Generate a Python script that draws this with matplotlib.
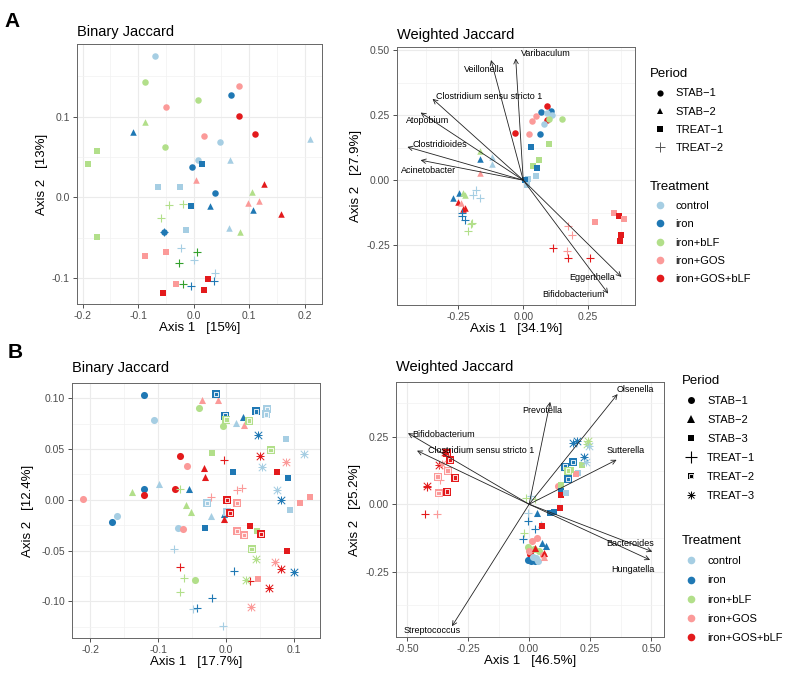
import matplotlib.pyplot as plt
from matplotlib.lines import Line2D
from matplotlib.ticker import FormatStrFormatter

plt.rcParams['font.family'] = ['Liberation Sans', 'DejaVu Sans']

# colour of each treatment (D = dark green points that are not in the legend)
treat_names = ['control', 'iron', 'iron+bLF', 'iron+GOS', 'iron+GOS+bLF']
treat_codes = ['C', 'I', 'B', 'G', 'R']
treat_colors = {'C': '#A6CEE3', 'I': '#1F78B4', 'B': '#B2DF8A',
                'G': '#FB9A99', 'R': '#E31A1C', 'D': '#33A02C'}

# ---------------- A: Binary Jaccard ----------------
a_bin_x = [-0.069, -0.087, 0.082, 0.067, 0.007, -0.050, 0.081, 0.111, 0.019, 0.047, -0.052, 0.008, -0.003, 0.039, -0.054,
           -0.110, -0.088, 0.210, 0.065, 0.004, 0.126, 0.105, 0.097, 0.117, 0.030, 0.106, 0.158, 0.064, 0.084,
           -0.174, -0.191, 0.015, -0.064, -0.025, -0.004, -0.014, -0.174, -0.087, -0.050, -0.032, -0.056, 0.026, 0.019,
           -0.044, -0.020, -0.059, -0.053, -0.023, 0.006, -0.027, 0.000, 0.039, 0.036, -0.019, -0.005]
a_bin_y = [0.175, 0.143, 0.138, 0.127, 0.121, 0.112, 0.101, 0.079, 0.076, 0.069, 0.063, 0.046, 0.038, 0.005, -0.043,
           0.081, 0.093, 0.072, 0.046, 0.022, 0.017, 0.007, -0.007, -0.004, -0.010, -0.016, -0.021, -0.038, -0.043,
           0.057, 0.041, 0.041, 0.013, 0.013, -0.011, -0.040, -0.049, -0.073, -0.067, -0.107, -0.118, -0.101, -0.115,
           -0.009, -0.008, -0.025, -0.043, -0.063, -0.067, -0.081, -0.077, -0.093, -0.104, -0.107, -0.110]
a_bin_period = ['STAB-1'] * 15 + ['STAB-2'] * 14 + ['TREAT-1'] * 14 + ['TREAT-2'] * 12
a_bin_treat = ['C', 'B', 'G', 'I', 'B', 'G', 'R', 'R', 'G', 'C', 'B', 'C', 'I', 'I', 'I',
               'I', 'B', 'C', 'C', 'G', 'R', 'B', 'G', 'G', 'I', 'I', 'R', 'C', 'B',
               'B', 'B', 'I', 'C', 'C', 'I', 'C', 'B', 'G', 'G', 'G', 'R', 'R', 'R',
               'B', 'B', 'B', 'I', 'C', 'D', 'D', 'C', 'C', 'I', 'D', 'I']

# ---------------- A: Weighted Jaccard ----------------
a_w_x = [0.092, 0.067, 0.107, 0.092, 0.112, 0.051, 0.035, 0.092, 0.100, 0.151, 0.080, -0.031, 0.022, 0.064,
         -0.167, -0.167, -0.122, -0.119, -0.167, -0.269, -0.247, -0.231, -0.226, -0.250, -0.240, -0.233, -0.224,
         0.031, 0.099, 0.060, 0.037, 0.053, 0.050, 0.018, 0.005, 0.015, 0.275, 0.350, 0.369, 0.388, 0.375, 0.371,
         -0.182, -0.195, -0.165, -0.237, -0.237, -0.224, -0.196, -0.200, -0.213, 0.171, 0.186, 0.115, 0.169, 0.171, 0.258]
a_w_y = [0.285, 0.264, 0.265, 0.258, 0.250, 0.246, 0.227, 0.233, 0.237, 0.235, 0.215, 0.181, 0.176, 0.176,
         0.112, 0.083, 0.090, 0.064, 0.026, -0.068, -0.051, -0.049, -0.055, -0.083, -0.087, -0.109, -0.105,
         0.128, 0.141, 0.077, 0.055, 0.047, 0.017, 0.005, 0.000, -0.017, -0.162, -0.126, -0.137, -0.148, -0.209, -0.235,
         -0.036, -0.058, -0.067, -0.126, -0.138, -0.154, -0.163, -0.170, -0.195, -0.176, -0.212, -0.259, -0.272, -0.301, -0.301]
a_w_period = ['STAB-1'] * 14 + ['STAB-2'] * 13 + ['TREAT-1'] * 15 + ['TREAT-2'] * 15
a_w_treat = ['R', 'I', 'I', 'C', 'C', 'G', 'G', 'R', 'B', 'B', 'C', 'R', 'G', 'I',
             'B', 'I', 'C', 'C', 'G', 'I', 'I', 'B', 'B', 'R', 'G', 'R', 'R',
             'I', 'B', 'B', 'B', 'I', 'C', 'C', 'I', 'C', 'G', 'G', 'R', 'G', 'R', 'R',
             'C', 'C', 'C', 'I', 'I', 'I', 'B', 'B', 'B', 'G', 'G', 'R', 'G', 'R', 'R']
a_taxa = ['Varibaculum', 'Veillonella', 'Clostridium sensu stricto 1', 'Atopobium',
          'Clostridioides', 'Acinetobacter', 'Eggerthella', 'Bifidobacterium']
a_arrow_x = [-0.029, -0.124, -0.349, -0.395, -0.446, -0.395, 0.378, 0.327]
a_arrow_y = [0.468, 0.462, 0.313, 0.260, 0.128, 0.077, -0.372, -0.436]
a_label_x = [0.087, -0.150, -0.131, -0.368, -0.320, -0.364, 0.264, 0.192]
a_label_y = [0.487, 0.427, 0.320, 0.228, 0.137, 0.038, -0.374, -0.440]

# ---------------- B: Binary Jaccard ----------------
b_bin_x = [-0.121, -0.106, -0.040, -0.004, -0.068, -0.057, -0.121, -0.121, -0.075, -0.211, -0.160, -0.168, -0.070, -0.063, -0.045,
           -0.035, -0.012, 0.025, 0.015, 0.027, -0.032, -0.031, -0.099, -0.138, -0.055, -0.059, -0.052, -0.022, -0.003, -0.003,
           -0.020, 0.010, 0.075, 0.089, 0.092, 0.124, 0.110, 0.095, -0.030, 0.036, 0.046, 0.091, 0.047,
           -0.002, 0.017, 0.024, -0.022, -0.067, -0.076, -0.067, -0.062, -0.067, 0.012, 0.036, -0.020, -0.043, -0.048, -0.004,
           -0.015, -0.001, 0.001, 0.034, 0.045, 0.061, 0.059, 0.066, -0.028, 0.002, 0.002, 0.006, 0.016, 0.016, 0.027, 0.052, 0.038,
           0.047, 0.051, 0.089, 0.116, 0.054, 0.075, 0.082, 0.045, 0.073, 0.081, 0.101, 0.030, 0.064, 0.037]
b_bin_y = [0.103, 0.079, 0.090, 0.073, 0.043, 0.033, 0.011, 0.005, 0.011, 0.001, -0.016, -0.022, -0.028, -0.029, -0.079,
           0.098, 0.098, 0.082, 0.076, 0.074, 0.031, 0.022, 0.016, 0.008, 0.011, -0.005, -0.012, -0.016, -0.014, -0.019,
           0.046, 0.027, 0.027, 0.060, 0.021, 0.003, -0.003, -0.010, -0.028, -0.026, -0.031, -0.050, -0.078,
           0.039, 0.010, 0.012, 0.003, 0.011, -0.048, -0.066, -0.077, -0.091, -0.070, -0.080, -0.097, -0.106, -0.107, -0.124,
           0.104, 0.083, 0.079, 0.078, 0.087, 0.089, 0.084, 0.049, -0.003, 0.000, -0.012, -0.013, -0.003, -0.031, -0.035, -0.034, -0.048,
           0.064, 0.043, 0.037, 0.045, 0.032, 0.010, 0.000, -0.058, -0.061, -0.068, -0.071, -0.079, -0.087, -0.105]
b_bin_period = (['STAB-1'] * 15 + ['STAB-2'] * 15 + ['STAB-3'] * 13 + ['TREAT-1'] * 15
                + ['TREAT-2'] * 17 + ['TREAT-3'] * 14)
b_bin_treat = ['I', 'C', 'B', 'B', 'R', 'G', 'I', 'R', 'R', 'G', 'C', 'I', 'C', 'G', 'B',
               'G', 'G', 'I', 'C', 'G', 'R', 'R', 'C', 'B', 'I', 'B', 'B', 'C', 'I', 'R',
               'B', 'I', 'R', 'C', 'I', 'G', 'G', 'C', 'I', 'R', 'B', 'R', 'G',
               'R', 'G', 'G', 'G', 'B', 'C', 'R', 'B', 'B', 'I', 'R', 'I', 'I', 'C', 'C',
               'I', 'I', 'B', 'B', 'I', 'C', 'C', 'B', 'C', 'R', 'C', 'R', 'G', 'G', 'G', 'R', 'B',
               'I', 'R', 'G', 'C', 'C', 'C', 'I', 'B', 'G', 'R', 'I', 'B', 'R', 'G']

# ---------------- B: Weighted Jaccard ----------------
b_w_x = [0.034, 0.012, -0.005, 0.020, 0.040, 0.004, 0.055, -0.005, 0.008, 0.022, 0.038, 0.030, 0.015, 0.000, 0.120,
         0.031, 0.048, 0.052, 0.068, 0.025, 0.061, 0.060,
         0.086, 0.102, 0.125, 0.053, 0.129, 0.129, 0.150, 0.131, 0.215, 0.199, 0.191, 0.172, 0.155,
         -0.012, 0.025, 0.008, -0.003, -0.003, 0.025, -0.023, -0.025, -0.418, -0.428, -0.377, -0.364,
         0.147, 0.178, 0.158, 0.160, -0.323, -0.334, -0.375, -0.302, -0.371, -0.337, -0.335,
         0.195, 0.181, 0.236, 0.243, 0.226, 0.233, -0.343, -0.368, -0.357, -0.418, 0.240]
b_w_y = [-0.127, -0.135, -0.158, -0.165, -0.175, -0.185, -0.190, -0.208, -0.210, -0.212, -0.212, -0.200, -0.195, -0.175, 0.068,
         -0.031, -0.073, -0.145, -0.154, -0.161, -0.182, -0.195,
         -0.034, -0.027, -0.015, -0.081, 0.057, 0.035, 0.041, 0.072, 0.146, 0.115, 0.113, 0.128, 0.113,
         0.025, 0.020, 0.031, -0.034, -0.061, -0.092, -0.108, -0.130, 0.063, -0.037, -0.036, 0.091,
         0.140, 0.156, 0.094, 0.125, 0.165, 0.125, 0.103, 0.099, 0.043, 0.047, 0.190,
         0.236, 0.226, 0.223, 0.215, 0.174, 0.156, 0.194, 0.146, 0.149, 0.068, 0.235]
b_w_period = (['STAB-1'] * 15 + ['STAB-2'] * 7 + ['STAB-3'] * 13 + ['TREAT-1'] * 12
              + ['TREAT-2'] * 11 + ['TREAT-3'] * 11)
b_w_treat = ['G', 'G', 'B', 'B', 'B', 'R', 'G', 'I', 'I', 'I', 'C', 'C', 'C', 'G', 'G',
             'I', 'C', 'I', 'I', 'R', 'R', 'G',
             'I', 'I', 'R', 'R', 'I', 'R', 'C', 'B', 'B', 'C', 'G', 'B', 'B',
             'B', 'B', 'C', 'C', 'I', 'I', 'B', 'I', 'R', 'R', 'G', 'G',
             'I', 'I', 'I', 'B', 'R', 'G', 'G', 'R', 'G', 'R', 'R',
             'I', 'I', 'B', 'C', 'I', 'C', 'R', 'R', 'G', 'R', 'B']
b_taxa = ['Olsenella', 'Prevotella', 'Bifidobacterium', 'Clostridium sensu stricto 1',
          'Sutterella', 'Bacteroides', 'Hungatella', 'Streptococcus']
b_arrow_x = [0.362, 0.086, -0.496, -0.459, 0.358, 0.504, 0.495, -0.316]
b_arrow_y = [0.409, 0.380, 0.264, 0.199, 0.165, -0.176, -0.207, -0.453]
b_label_x = [0.436, 0.052, -0.350, -0.196, 0.395, 0.413, 0.424, -0.398]
b_label_y = [0.426, 0.347, 0.260, 0.199, 0.201, -0.145, -0.242, -0.470]

# shape used for each period, per panel row
shapes_a = {'STAB-1': 'circle', 'STAB-2': 'triangle', 'TREAT-1': 'square', 'TREAT-2': 'plus'}
shapes_b = {'STAB-1': 'circle', 'STAB-2': 'triangle', 'STAB-3': 'square',
            'TREAT-1': 'plus', 'TREAT-2': 'boxcross', 'TREAT-3': 'star'}

fig = plt.figure(figsize=(7.87, 6.75), dpi=100)


def style_axes(ax, xlim, ylim, xticks, yticks, xfmt, yfmt, xminor, yminor):
    ax.set_xlim(xlim)
    ax.set_ylim(ylim)
    ax.set_xticks(xticks)
    ax.set_yticks(yticks)
    ax.set_xticks(xminor, minor=True)
    ax.set_yticks(yminor, minor=True)
    ax.xaxis.set_major_formatter(FormatStrFormatter(xfmt))
    ax.yaxis.set_major_formatter(FormatStrFormatter(yfmt))
    ax.grid(True, which='major', color='#EBEBEB', lw=0.8)
    ax.grid(True, which='minor', color='#F2F2F2', lw=0.5)
    ax.set_axisbelow(True)
    ax.tick_params(which='major', length=3, width=0.6, color='#333333',
                   labelsize=7.5, labelcolor='#4D4D4D', pad=2)
    ax.tick_params(which='minor', length=0)
    for s in ax.spines.values():
        s.set_color('#666666')
        s.set_linewidth(0.7)


def draw_points(ax, xs, ys, periods, treats, shapes, size):
    for x, y, p, t in zip(xs, ys, periods, treats):
        c = treat_colors[t]
        shape = shapes[p]
        if shape == 'circle':
            ax.scatter(x, y, s=size, marker='o', color=c, lw=0, zorder=3)
        elif shape == 'triangle':
            ax.scatter(x, y, s=size, marker='^', color=c, lw=0, zorder=3)
        elif shape == 'square':
            ax.scatter(x, y, s=size * 0.9, marker='s', color=c, lw=0, zorder=3)
        elif shape == 'plus':
            ax.scatter(x, y, s=size * 1.6, marker='+', color=c, lw=0.8, zorder=3)
        elif shape == 'boxcross':
            ax.scatter(x, y, s=size * 1.0, marker='s', color=c, lw=0, zorder=3)
            ax.scatter(x, y, s=size * 0.35, marker='s', facecolor='none',
                       edgecolor='white', lw=0.6, zorder=3)
            ax.scatter(x, y, s=size * 0.08, marker='o', color=c, lw=0, zorder=3)
        else:
            ax.scatter(x, y, s=size * 1.6, marker='+', color=c, lw=0.7, zorder=3)
            ax.scatter(x, y, s=size * 1.1, marker='x', color=c, lw=0.7, zorder=3)
            ax.scatter(x, y, s=size * 0.3, marker='o', color=c, lw=0, zorder=3)


def draw_arrows(ax, taxa, tx, ty, lx, ly):
    for name, x, y, u, v in zip(taxa, tx, ty, lx, ly):
        ax.annotate('', xy=(x, y), xytext=(0, 0),
                    arrowprops=dict(arrowstyle='->', lw=0.6, color='#222222',
                                    shrinkA=0, shrinkB=0, mutation_scale=8), zorder=4)
        ax.text(u, v, name, fontsize=6.5, ha='center', va='center', zorder=5)


def add_legends(periods, handles, x, y_period, y_treat, spacing):
    fig.legend(handles, [p.replace('-', '\u2212') for p in periods], title='Period', loc='upper left',
               bbox_to_anchor=(x, y_period), frameon=False, fontsize=8, title_fontsize=9.5,
               alignment='left', borderpad=0, borderaxespad=0, handlelength=1.7,
               handletextpad=0.6, labelspacing=spacing)
    th = [Line2D([], [], ls='', marker='o', ms=5.5, color=treat_colors[c], mew=0) for c in treat_codes]
    fig.legend(th, treat_names, title='Treatment', loc='upper left',
               bbox_to_anchor=(x, y_treat), frameon=False, fontsize=8, title_fontsize=9.5,
               alignment='left', borderpad=0, borderaxespad=0, handlelength=1.7,
               handletextpad=0.6, labelspacing=spacing)


def mk(marker, ms, mew=0, color='black'):
    return Line2D([], [], ls='', marker=marker, ms=ms, color=color, mew=mew)


# Panel A left
ax1 = fig.add_axes([0.0978, 0.5496, 0.3113, 0.3852])
style_axes(ax1, (-0.210, 0.231), (-0.132, 0.190), [-0.2, -0.1, 0.0, 0.1, 0.2], [-0.1, 0.0, 0.1],
           '%.1f', '%.1f', [-0.15, -0.05, 0.05, 0.15], [-0.05, 0.05, 0.15])
draw_points(ax1, a_bin_x, a_bin_y, a_bin_period, a_bin_treat, shapes_a, 22)
ax1.set_title('Binary Jaccard', loc='left', fontsize=10.5, pad=6)
ax1.set_xlabel('Axis 1   [15%]', fontsize=9.5, labelpad=1)
ax1.set_ylabel('Axis 2   [13%]', fontsize=9.5, labelpad=3)

# Panel A right
ax2 = fig.add_axes([0.5044, 0.5481, 0.3024, 0.3822])
style_axes(ax2, (-0.486, 0.430), (-0.480, 0.512), [-0.25, 0.0, 0.25], [-0.25, 0.0, 0.25, 0.5],
           '%.2f', '%.2f', [-0.375, -0.125, 0.125, 0.375], [-0.375, -0.125, 0.125, 0.375])
draw_points(ax2, a_w_x, a_w_y, a_w_period, a_w_treat, shapes_a, 22)
draw_arrows(ax2, a_taxa, a_arrow_x, a_arrow_y, a_label_x, a_label_y)
ax2.set_title('Weighted Jaccard', loc='left', fontsize=10.5, pad=6)
ax2.set_xlabel('Axis 1   [34.1%]', fontsize=9.5, labelpad=1)
ax2.set_ylabel('Axis 2   [27.9%]', fontsize=9.5, labelpad=3)

# Panel B left
ax3 = fig.add_axes([0.0915, 0.0548, 0.3151, 0.3778])
style_axes(ax3, (-0.227, 0.139), (-0.136, 0.115), [-0.2, -0.1, 0.0, 0.1],
           [-0.10, -0.05, 0.0, 0.05, 0.10], '%.1f', '%.2f',
           [-0.15, -0.05, 0.05], [-0.125, -0.075, -0.025, 0.025, 0.075])
draw_points(ax3, b_bin_x, b_bin_y, b_bin_period, b_bin_treat, shapes_b, 26)
ax3.set_title('Binary Jaccard', loc='left', fontsize=10.5, pad=8)
ax3.set_xlabel('Axis 1   [17.7%]', fontsize=9.5, labelpad=1)
ax3.set_ylabel('Axis 2   [12.4%]', fontsize=9.5, labelpad=5)

# Panel B right
ax4 = fig.add_axes([0.5032, 0.0563, 0.3405, 0.3778])
style_axes(ax4, (-0.545, 0.552), (-0.493, 0.454), [-0.5, -0.25, 0.0, 0.25, 0.5], [-0.25, 0.0, 0.25],
           '%.2f', '%.2f', [-0.375, -0.125, 0.125, 0.375], [-0.375, -0.125, 0.125, 0.375])
draw_points(ax4, b_w_x, b_w_y, b_w_period, b_w_treat, shapes_b, 26)
draw_arrows(ax4, b_taxa, b_arrow_x, b_arrow_y, b_label_x, b_label_y)
ax4.set_title('Weighted Jaccard', loc='left', fontsize=10.5, pad=8)
ax4.set_xlabel('Axis 1   [46.5%]', fontsize=9.5, labelpad=1)
ax4.set_ylabel('Axis 2   [25.2%]', fontsize=9.5, labelpad=3)

# legends
add_legends(['STAB-1', 'STAB-2', 'TREAT-1', 'TREAT-2'],
            [mk('o', 4.5), mk('^', 5), mk('s', 4.5), mk('+', 6.5, 0.7, '#555555')],
            0.826, 0.899, 0.732, 0.74)
sq_x = (mk('s', 5), mk('s', 3, 0.6, 'white'))
sq_x[1].set_markerfacecolor('none')
star = (mk('+', 6, 0.7), mk('x', 5, 0.7))
add_legends(['STAB-1', 'STAB-2', 'STAB-3', 'TREAT-1', 'TREAT-2', 'TREAT-3'],
            [mk('o', 5), mk('^', 5.5), mk('s', 5), mk('+', 8, 0.8), sq_x, star],
            0.866, 0.445, 0.207, 0.82)

fig.text(0.006, 0.982, 'A', fontsize=15, fontweight='bold', va='top')
fig.text(0.010, 0.492, 'B', fontsize=15, fontweight='bold', va='top')

fig.savefig('out.png', dpi=100)
